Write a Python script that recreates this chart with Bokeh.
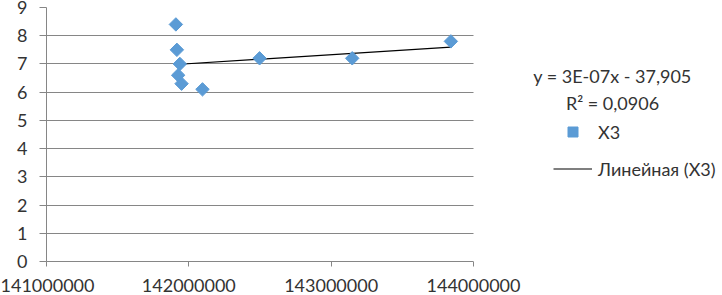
import numpy as np
from bokeh.plotting import figure
from bokeh.models import (Range1d, FixedTicker, Legend, LegendItem, Label,
                          BoxAnnotation, CustomJSTickFormatter)
from bokeh.embed import file_html
from bokeh.resources import INLINE

# data
x3_x = [141909000, 141916000, 141937000, 141925000, 141949000,
        142096000, 142497000, 143148000, 143841000]
x3_y = [8.4, 7.5, 7.0, 6.6, 6.3, 6.1, 7.2, 7.2, 7.8]
x_ticks = [141000000, 142000000, 143000000, 144000000]
y_ticks = [0, 1, 2, 3, 4, 5, 6, 7, 8, 9]
eq_text = "y = 3E-07x - 37,905"
r2_text = "R² = 0,0906"
series_name = "X3"
trend_name = "Линейная (X3)"

FONT = "Lato"
GREY = "#868686"
BLUE = "#5B9BD5"
TXT = "#333333"

W, H = 722, 295
LEFT, TOP, BOTTOM = 46, 7, 34
PLOT_W = 427  # pixels spanned by 141M..144M

# the frame continues to the right edge to host the legend; the x range is
# extended proportionally so that 141M..144M keeps its width
x_lo, x_hi = x_ticks[0], x_ticks[-1]
x_end = x_lo + (x_hi - x_lo) * (W - LEFT) / PLOT_W

p = figure(width=W, height=H, output_backend="svg", toolbar_location=None,
           x_range=Range1d(x_lo, x_end), y_range=Range1d(0, 9),
           min_border_left=LEFT, min_border_right=0, min_border_top=TOP,
           min_border_bottom=BOTTOM)
p.outline_line_color = None
p.background_fill_color = "white"

# axes
for ax in (p.xaxis[0], p.yaxis[0]):
    ax.axis_line_color = GREY
    ax.major_tick_line_color = GREY
    ax.minor_tick_line_color = None
    ax.major_tick_in = 0
    ax.major_label_text_font = FONT
    ax.major_label_text_font_size = "18px"
    ax.major_label_text_color = TXT

p.xaxis.ticker = FixedTicker(ticks=x_ticks)
p.xaxis.bounds = (x_lo, x_hi)
p.xaxis.formatter = CustomJSTickFormatter(code="return tick.toFixed(0);")
p.xaxis.major_tick_out = 5
p.xaxis.major_label_standoff = 12

p.yaxis.ticker = FixedTicker(ticks=y_ticks)
p.yaxis.major_tick_out = 7
p.yaxis.major_label_standoff = 12

p.xgrid.grid_line_color = None
p.ygrid.ticker = FixedTicker(ticks=y_ticks)
p.ygrid.grid_line_color = GREY
p.ygrid.grid_line_width = 1

# white mask over the legend area (hides gridlines beyond the plot area)
p.add_layout(BoxAnnotation(left=x_hi, fill_color="white", fill_alpha=1,
                           line_alpha=0))

# trend line (least squares)
xa = np.array(x3_x, dtype=float)
ya = np.array(x3_y, dtype=float)
k, b = np.polyfit(xa, ya, 1)
tx = [xa.min(), xa.max()]
ty = [k * tx[0] + b, k * tx[1] + b]
trend = p.line(tx, ty, line_color="black", line_width=1.2)

pts = p.scatter(x3_x, x3_y, marker="square", angle=np.pi / 4, size=9.5,
                fill_color=BLUE, line_color=BLUE)

legend = Legend(items=[LegendItem(label=series_name, renderers=[pts]),
                       LegendItem(label=trend_name, renderers=[trend])],
                location=(507, 80), padding=0, margin=0, spacing=12,
                glyph_width=39, glyph_height=25, label_height=25,
                label_standoff=6, border_line_alpha=0,
                background_fill_alpha=0,
                label_text_font=FONT, label_text_font_size="18px",
                label_text_color=TXT)
p.add_layout(legend, "center")

for txt, yy in ((eq_text, 186), (r2_text, 159)):
    p.add_layout(Label(x=566, y=yy, x_units="screen", y_units="screen",
                       text=txt, text_align="center", text_baseline="middle",
                       text_font=FONT, text_font_size="18px",
                       text_color=TXT))

open("out.html", "w").write(file_html(p, INLINE))
